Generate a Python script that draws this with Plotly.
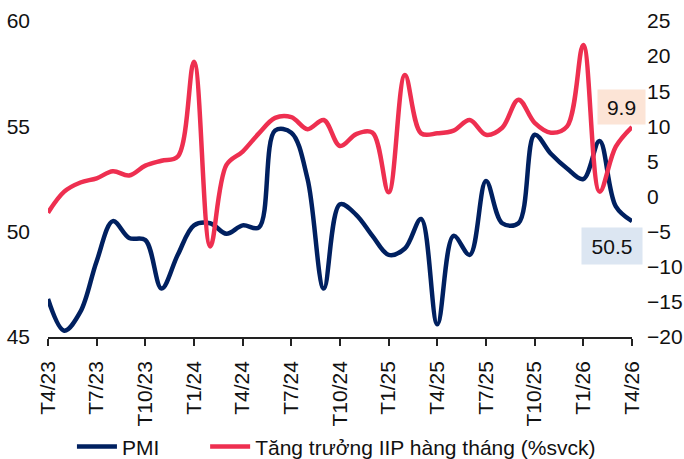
import plotly.graph_objects as go

months = []
for y in (23, 24, 25, 26):
    for m in range(1, 13):
        if (y == 23 and m < 4) or (y == 26 and m > 4):
            continue
        months.append(f"T{m}/{y}")

pmi = [46.8, 45.3, 46.2, 48.6, 50.5, 49.7, 49.6, 47.3, 48.9, 50.3, 50.4, 49.9,
       50.3, 50.2, 54.8, 54.7, 52.5, 47.3, 51.3, 50.8, 49.8, 48.9, 49.2, 50.6,
       45.6, 49.8, 48.9, 52.4, 50.4, 50.4, 54.6, 53.7, 53.0, 52.5, 54.3, 51.2, 50.5]

iip = [-2.3, 0.7, 2.0, 2.6, 3.6, 3.0, 4.4, 5.1, 5.7, 19.2, -7.1, 4.5,
       6.4, 9.0, 11.2, 11.3, 9.6, 10.9, 7.2, 8.9, 9.1, 0.6, 17.3, 9.0,
       9.0, 9.4, 10.9, 8.8, 9.8, 13.8, 10.5, 9.1, 10.0, 21.6, 0.7, 7.1, 9.9]

series_names = ["PMI", "Tăng trưởng IIP hàng tháng (%svck)"]

tick_labels = months[::3]
x_idx = list(range(len(months)))
tick_idx = x_idx[::3]

NAVY = "#002060"
RED = "#EE2F50"
FONT = "Liberation Sans, Arial, sans-serif"
FS = 21
PAD = "\u00a0" * 7

fig = go.Figure()
fig.add_trace(go.Scatter(x=x_idx, y=pmi, name=series_names[0] + PAD, mode="lines",
                         line=dict(color=NAVY, width=4.5, shape="spline", smoothing=1)))
fig.add_trace(go.Scatter(x=x_idx, y=iip, name=series_names[1], mode="lines",
                         yaxis="y2",
                         line=dict(color=RED, width=4.5, shape="spline", smoothing=1)))

fig.add_annotation(x=x_idx[-1], y=iip[-1], yref="y2", text=f"{iip[-1]:.1f}",
                   showarrow=False, bgcolor="#FCE4D6", width=45, height=32,
                   xshift=-11, yshift=20, font=dict(size=FS, color="#111", family=FONT))
fig.add_annotation(x=x_idx[-1], y=pmi[-1], yref="y", text=f"{pmi[-1]:.1f}",
                   showarrow=False, bgcolor="#DCE6F2", width=58, height=34,
                   xshift=-20, yshift=-25, font=dict(size=FS, color="#111", family=FONT))

fig.update_layout(
    width=684, height=459,
    margin=dict(l=48, r=52, t=21, b=122, autoexpand=False),
    paper_bgcolor="white", plot_bgcolor="white",
    font=dict(family=FONT, size=FS, color="#111"),
    showlegend=True,
    legend=dict(orientation="h", x=0.041, xanchor="left", y=-0.348, yanchor="middle",
                font=dict(size=FS), itemwidth=40, tracegroupgap=0),
    xaxis=dict(range=[0, len(months) - 1], tickmode="array", tickvals=tick_idx,
               ticktext=tick_labels, tickangle=-90, showgrid=False, zeroline=False,
               showline=True, linecolor="#222", linewidth=1.5,
               ticks="outside", ticklen=7, tickcolor="#222", tickwidth=1.5,
               ticklabelstandoff=7, automargin=False),
    yaxis=dict(range=[45, 60], dtick=5, showgrid=False, zeroline=False, showline=False,
               ticks="", ticklabelstandoff=17, automargin=False),
    yaxis2=dict(range=[-20, 25], dtick=5, overlaying="y", side="right", showgrid=False,
                zeroline=False, showline=False, ticks="", ticklabelstandoff=14,
                automargin=False),
)

fig.write_html("out.html", config={"displayModeBar": False},
               post_script="document.body.style.margin='0px';document.body.style.overflow='hidden';")
